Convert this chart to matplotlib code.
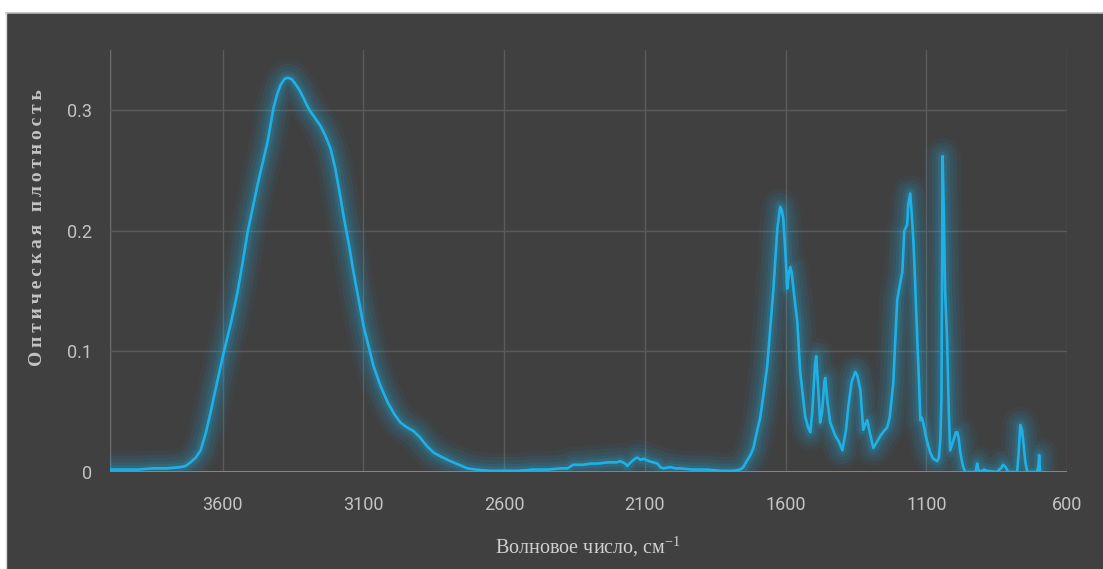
import matplotlib
matplotlib.use("Agg")
import matplotlib.pyplot as plt
from matplotlib.patches import Rectangle
from matplotlib.lines import Line2D

# IR spectrum, wavenumber (cm-1) vs optical density
wavenumber = [
    4000, 3900, 3850, 3800, 3750, 3731, 3714, 3695, 3678, 3660, 3643, 3620,
    3596, 3570, 3547, 3530, 3511, 3493, 3476, 3458, 3440, 3419, 3405, 3394,
    3380, 3369, 3355, 3348, 3330, 3312, 3300, 3288, 3270, 3252, 3235, 3216,
    3200, 3185, 3170, 3150, 3135, 3115, 3099, 3080, 3064, 3040, 3014, 2990,
    2968, 2945, 2922, 2900, 2872, 2850, 2826, 2800, 2790, 2760, 2730, 2700,
    2650, 2602, 2550, 2500, 2446, 2400, 2375, 2354, 2320, 2290, 2268, 2230,
    2200, 2187, 2170, 2162, 2150, 2135, 2126, 2115, 2105, 2085, 2070, 2055,
    2045, 2034, 2010, 1990, 1974, 1930, 1878, 1830, 1785, 1761, 1750, 1738,
    1725, 1714, 1700, 1690, 1678, 1665, 1643, 1629, 1619, 1613, 1608, 1600,
    1594, 1588, 1583, 1578, 1572, 1558, 1548, 1530, 1520, 1512, 1505, 1495,
    1491, 1484, 1477, 1470, 1462, 1459, 1452, 1441, 1423, 1410, 1398, 1385,
    1377, 1365, 1352, 1345, 1334, 1324, 1316, 1310, 1300, 1288, 1275, 1263,
    1250, 1239, 1230, 1217, 1210, 1203, 1194, 1185, 1178, 1168, 1164, 1157,
    1152, 1146, 1140, 1132, 1125, 1121, 1116, 1111, 1100, 1086, 1075, 1061,
    1055, 1050, 1046, 1042, 1038, 1033, 1026, 1020, 1015, 1005, 995, 990,
    985, 979, 970, 962, 940, 925, 919, 915, 908, 895, 884, 850, 835, 827,
    818, 809, 777, 772, 766, 760, 756, 748, 741, 706, 701, 699, 697, 695,
]
density = [
    0.002, 0.002, 0.003, 0.003, 0.004, 0.005, 0.008, 0.012, 0.018, 0.032, 0.049, 0.074,
    0.099, 0.124, 0.149, 0.172, 0.199, 0.219, 0.238, 0.256, 0.274, 0.302, 0.314, 0.321,
    0.326, 0.327, 0.326, 0.324, 0.318, 0.310, 0.304, 0.299, 0.293, 0.287, 0.279, 0.268,
    0.252, 0.233, 0.212, 0.187, 0.166, 0.141, 0.121, 0.103, 0.088, 0.072, 0.058, 0.048,
    0.041, 0.037, 0.034, 0.029, 0.021, 0.016, 0.013, 0.010, 0.009, 0.006, 0.003, 0.002,
    0.001, 0.001, 0.001, 0.002, 0.002, 0.003, 0.003, 0.006, 0.006, 0.007, 0.007, 0.008,
    0.008, 0.009, 0.007, 0.005, 0.008, 0.011, 0.012, 0.010, 0.011, 0.009, 0.008, 0.007,
    0.004, 0.003, 0.004, 0.003, 0.003, 0.002, 0.002, 0.001, 0.001, 0.002, 0.004, 0.009,
    0.014, 0.020, 0.035, 0.045, 0.065, 0.088, 0.152, 0.202, 0.220, 0.217, 0.210, 0.180,
    0.152, 0.165, 0.170, 0.165, 0.152, 0.124, 0.083, 0.046, 0.037, 0.033, 0.050, 0.090,
    0.096, 0.070, 0.041, 0.050, 0.075, 0.078, 0.060, 0.041, 0.030, 0.025, 0.018, 0.035,
    0.054, 0.075, 0.083, 0.080, 0.068, 0.035, 0.040, 0.043, 0.032, 0.020, 0.025, 0.030,
    0.034, 0.037, 0.045, 0.074, 0.110, 0.143, 0.155, 0.166, 0.200, 0.205, 0.222, 0.231,
    0.215, 0.193, 0.160, 0.110, 0.070, 0.043, 0.045, 0.041, 0.028, 0.016, 0.011, 0.009,
    0.012, 0.027, 0.060, 0.262, 0.220, 0.150, 0.110, 0.050, 0.018, 0.025, 0.033, 0.033,
    0.028, 0.016, 0.005, 0.000, 0.000, 0.000, 0.007, 0.002, 0.000, 0.002, 0.001, 0.000, 0.003, 0.006,
    0.004, 0.000, 0.000, 0.015, 0.039, 0.035, 0.027, 0.008, 0.000, 0.000, 0.006, 0.014, 0.005, 0.000,
]

x_ticks = [3600, 3100, 2600, 2100, 1600, 1100, 600]
y_ticks = [0, 0.1, 0.2, 0.3]
y_labels = ['0', '0.1', '0.2', '0.3']

BG = '#404040'
GRID = '#5b5b5b'
TXT = '#c4c4c4'
LINE = '#1fb1e6'

W, H = 1103, 569
fig = plt.figure(figsize=(W / 100, H / 100), dpi=100, facecolor='white')

# dark panel with a thin border on top
fig.patches.append(Rectangle((6 / W, 0), 1 - 6 / W, (H - 13) / H,
                             transform=fig.transFigure, facecolor=BG,
                             edgecolor='none', zorder=-10))
fig.lines.append(Line2D([6 / W, 1], [(H - 12.5) / H] * 2, transform=fig.transFigure,
                        color='#b8b8b8', lw=1.2, zorder=-5))
fig.lines.append(Line2D([6 / W] * 2, [0, (H - 12.5) / H], transform=fig.transFigure,
                        color='#d8d8d8', lw=1.0, zorder=-5))

ax = fig.add_axes([110 / W, 1 - 472 / H, (1067 - 110) / W, (472 - 50) / H])
ax.set_facecolor(BG)
ax.set_xlim(4000, 600)
ax.set_ylim(0, 0.35)

for xv in x_ticks + [4000]:
    ax.axvline(xv, color=GRID if xv != 4000 else '#6e6e6e', lw=1.0, zorder=1)
for yv in y_ticks[1:]:
    ax.axhline(yv, color=GRID, lw=1.0, zorder=1)

for s in ax.spines.values():
    s.set_visible(False)
ax.axhline(0, color='#8c8c8c', lw=1.3, zorder=2)

# soft glow under the line
for lw, a in [(26, 0.05), (20, 0.065), (15, 0.08), (10, 0.10), (6, 0.15)]:
    ax.plot(wavenumber, density, color=LINE, lw=lw, alpha=a,
            solid_joinstyle='round', solid_capstyle='round', zorder=3)
ax.plot(wavenumber, density, color=LINE, lw=1.9, zorder=4,
        solid_joinstyle='round')

fam = ['Roboto', 'DejaVu Sans']
ax.set_xticks(x_ticks)
ax.set_xticklabels([str(v) for v in x_ticks], family=fam, fontsize=13, color=TXT)
ax.set_yticks(y_ticks)
ax.set_yticklabels(y_labels, family=fam, fontsize=13, color=TXT)
ax.tick_params(axis='x', length=0, pad=17)
ax.tick_params(axis='y', length=0, pad=13)

fig.text(588 / W, 1 - 547 / H, 'Волновое число, см$^{\\mathregular{-1}}$',
         family='Liberation Serif', fontsize=14.5, color='#d0d0d0',
         ha='center', va='center')
fig.text(37 / W, 1 - 228 / H, '\u2009'.join('Оптическая плотность'),
         family='Liberation Serif', fontweight='bold', fontsize=14, color=TXT,
         rotation=90, ha='center', va='center')

fig.savefig('out.png', dpi=100, facecolor='white')
